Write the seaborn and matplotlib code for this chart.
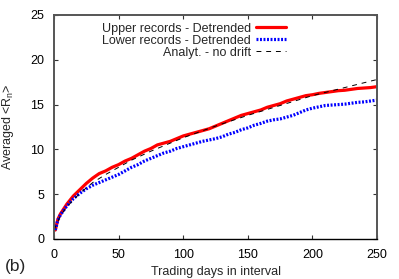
import numpy as np
import pandas as pd
import matplotlib
matplotlib.use("Agg")
import matplotlib.pyplot as plt
import seaborn as sns

# values
days = [1, 3, 5, 10, 15, 20, 25, 30, 35, 40, 45, 50, 55, 60, 65, 70, 75, 80, 85,
        90, 95, 100, 105, 110, 115, 120, 125, 130, 135, 140, 145, 150, 155, 160,
        165, 170, 175, 180, 185, 190, 195, 200, 205, 210, 215, 220, 225, 230, 235,
        240, 245, 250]
upper = [1.0, 2.2, 2.8, 3.9, 4.8, 5.5, 6.2, 6.8, 7.3, 7.6, 8.0, 8.3, 8.7, 9.0,
         9.4, 9.8, 10.1, 10.5, 10.7, 10.9, 11.2, 11.5, 11.7, 11.9, 12.1, 12.3,
         12.6, 12.9, 13.2, 13.5, 13.8, 14.0, 14.2, 14.4, 14.7, 14.9, 15.1, 15.4,
         15.6, 15.8, 16.0, 16.1, 16.25, 16.35, 16.45, 16.55, 16.6, 16.7, 16.8,
         16.85, 16.9, 17.0]
lower = [1.0, 2.1, 2.7, 3.7, 4.5, 5.1, 5.6, 6.0, 6.3, 6.6, 6.9, 7.2, 7.6, 8.0,
         8.3, 8.7, 9.0, 9.3, 9.6, 9.8, 10.1, 10.3, 10.5, 10.7, 10.9, 11.05, 11.2,
         11.4, 11.7, 11.9, 12.2, 12.4, 12.7, 12.9, 13.15, 13.3, 13.4, 13.6, 13.8,
         14.1, 14.4, 14.6, 14.75, 14.9, 14.95, 15.0, 15.05, 15.15, 15.25, 15.3,
         15.4, 15.5]
an_days = [0, 5, 10, 20, 30, 40, 50, 60, 75, 100, 125, 150, 175, 200, 225, 250]
analyt = [1.0, 2.6, 3.6, 5.1, 6.3, 7.2, 8.0, 8.8, 9.8, 11.3, 12.6, 13.8, 14.9,
          16.0, 16.9, 17.8]

sns.set_style("ticks")
plt.rcParams["font.family"] = ["Liberation Sans", "DejaVu Sans"]
plt.rcParams["mathtext.fontset"] = "custom"
plt.rcParams["mathtext.rm"] = "Liberation Sans"
plt.rcParams["mathtext.it"] = "Liberation Sans"

fig = plt.figure(figsize=(3.99, 2.79), dpi=100)
ax = fig.add_axes([0.1353, 0.1434, 0.8097, 0.8029])

sns.lineplot(x=days, y=upper, ax=ax, color="#ff0000", lw=2.3,
             label="Upper records - Detrended")
sns.lineplot(x=days, y=lower, ax=ax, color="#0000ff", lw=2.3,
             linestyle=(0, (0.6, 0.5)), label="Lower records - Detrended")
sns.lineplot(x=an_days, y=analyt, ax=ax, color="black", lw=0.7,
             linestyle=(0, (5, 5)), label="Analyt. - no drift")

ax.set_xlim(0, 250)
ax.set_ylim(0, 25)
ax.set_xticks(range(0, 251, 50))
ax.set_yticks(range(0, 26, 5))
ax.tick_params(direction="in", length=3, width=0.8, labelsize=9,
               top=True, right=True, colors="#333333", labelcolor="black", pad=7)
for side in ["left", "top", "right"]:
    ax.spines[side].set_color("#555555")
    ax.spines[side].set_linewidth(1.4)
ax.spines["bottom"].set_color("black")
ax.spines["bottom"].set_linewidth(1.0)

ax.set_xlabel("Trading days in interval", fontsize=9, labelpad=4)
ax.set_ylabel("Averaged <R$_n$>", fontsize=9, labelpad=10)

leg = ax.legend(loc="upper center", bbox_to_anchor=(0.433, 1.015), frameon=False,
                markerfirst=False, fontsize=9, handlelength=2.4,
                labelspacing=0.0, handletextpad=0.4)
for t in leg.get_texts():
    t.set_ha("right")

fig.text(0.012, 0.03, "(b)", fontsize=12.5)

fig.savefig("out.png", dpi=100)
